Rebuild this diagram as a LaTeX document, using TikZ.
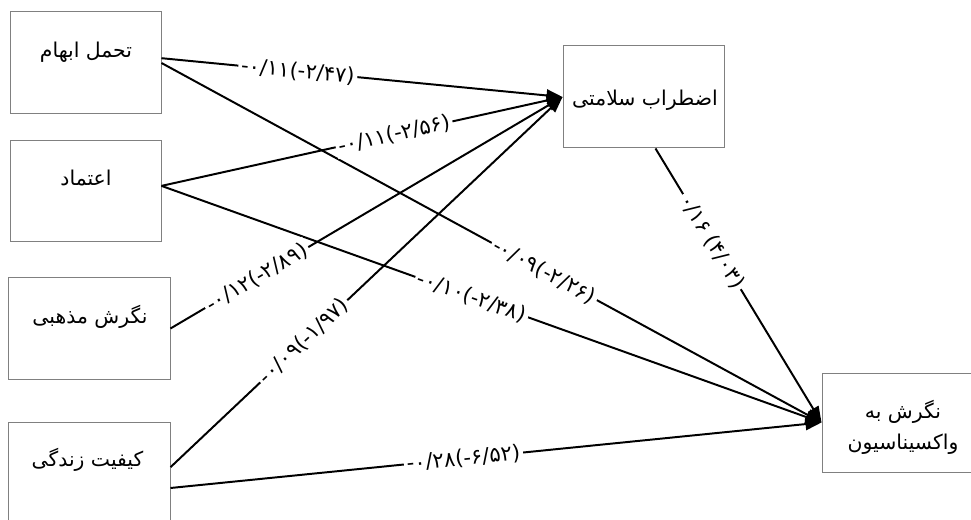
\documentclass[tikz,border=0pt]{standalone}
\usepackage{fontspec}
\usetikzlibrary{arrows.meta}
\TeXXeTstate=1
\newfontfamily\farsifont[Script=Arabic]{DejaVu Sans}
\newfontfamily\numfont{DejaVu Sans}
\definecolor{r128g128b128}{rgb}{0.500000,0.500000,0.500000}
\tikzset{
  varbox/.style={draw=r128g128b128, line width=0.7pt, inner sep=0pt},
  vartext/.style={font=\farsifont\fontsize{14.5}{22}\selectfont, align=center},
  link/.style={line width=1.4pt, -{Triangle[length=0.40cm,width=0.30cm]}},
  coef/.style={fill=white, inner sep=2pt, sloped, font=\numfont\fontsize{15}{17}\selectfont}
}
\begin{document}
\begin{tikzpicture}
\useasboundingbox (0.000000,0.000000) rectangle (24.275000,13.000000);

% Drawing box b1
\node (b1) [varbox, minimum width=3.775000cm, minimum height=2.550000cm] at (2.137500,11.425000) {};
\node (t1) [vartext] at (2.150000,11.700000) {\beginR تحمل ابهام\endR};

% Drawing box b2
\node (b2) [varbox, minimum width=3.775000cm, minimum height=2.525000cm] at (2.137500,8.212500) {};
\node (t2) [vartext] at (2.150000,8.550000) {\beginR اعتماد\endR};

% Drawing box b3
\node (b3) [varbox, minimum width=4.050000cm, minimum height=2.525000cm] at (2.225000,4.787500) {};
\node (t3) [vartext] at (2.250000,5.075000) {\beginR نگرش مذهبی\endR};

% Drawing box b4
\node (b4) [varbox, minimum width=4.050000cm, minimum height=2.500000cm] at (2.225000,1.200000) {};
\node (t4) [vartext] at (2.187500,1.500000) {\beginR کیفیت زندگی\endR};

% Drawing box b5
\node (b5) [varbox, minimum width=4.025000cm, minimum height=2.550000cm] at (16.087500,10.575000) {};
\node (t5) [vartext] at (16.125000,10.500000) {\beginR اضطراب سلامتی\endR};

% Drawing box b6
\node (b6) [varbox, minimum width=3.750000cm, minimum height=2.475000cm] at (22.425000,2.437500) {};
\node (t6) [vartext] at (22.575000,2.325000) {\beginR نگرش به\endR\\\beginR واکسیناسیون\endR};

% Drawing paths to b6
\draw [link] (b1.east) -- node [coef, pos=0.580000] {\beginL-۰/۰۹(-۲/۲۶)\endL} (b6.west);%
\draw [link] ([yshift=0.140000cm]b2.east) -- node [coef, pos=0.470000] {\beginL-۰/۱۰(-۲/۳۸)\endL} (b6.west);%
\draw [link] ([yshift=-0.400000cm]b4.east) -- node [coef, pos=0.450000] {\beginL-۰/۲۸(-۶/۵۲)\endL} (b6.west);%
\draw [link] ([xshift=0.300000cm]b5.south) -- node [coef, pos=0.340000] {\beginL۰/۱۶ (۴/۰۳)\endL} (b6.west);%

% Drawing paths to b5
\draw [link] ([yshift=0.120000cm]b1.east) -- node [coef, pos=0.340000] {\beginL-۰/۱۱(-۲/۴۷)\endL} (b5.west);%
\draw [link] ([yshift=0.140000cm]b2.east) -- node [coef, pos=0.580000] {\beginL-۰/۱۱(-۲/۵۶)\endL} (b5.west);%
\draw [link] (b3.east) -- node [coef, pos=0.220000] {\beginL-۰/۱۲(-۲/۸۹)\endL} (b5.west);%
\draw [link] ([yshift=0.120000cm]b4.east) -- node [coef, pos=0.340000] {\beginL-۰/۰۹(-۱/۹۷)\endL} (b5.west);%
\end{tikzpicture}
\end{document}
